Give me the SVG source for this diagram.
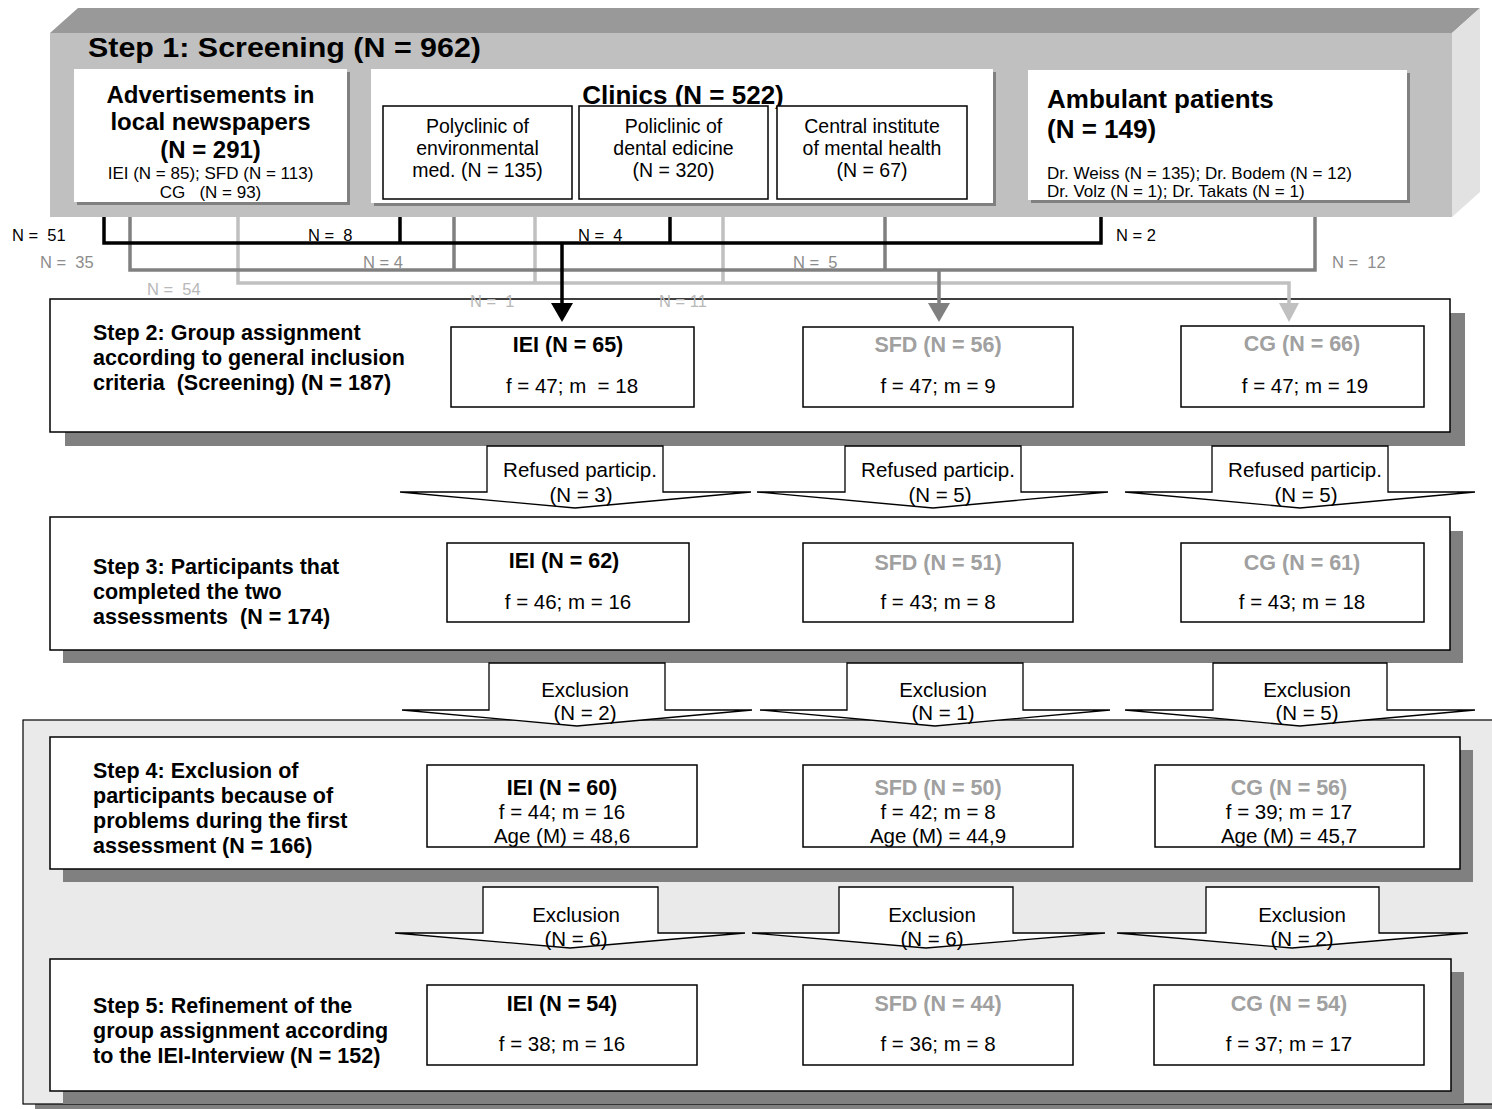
<svg xmlns="http://www.w3.org/2000/svg" width="1492" height="1109" viewBox="0 0 1492 1109">
<style>
text{font-family:"Liberation Sans",Arial,Helvetica,sans-serif;white-space:pre;fill:#000}
.b{font-weight:bold}
.m{text-anchor:middle}
.gr{fill:#a0a0a0}
.box{fill:#fff;stroke:#000;stroke-width:1.5}
.sh{fill:#808080}
.wb{fill:#fff}
.f17{font-size:17px}
.f19{font-size:19.5px}
.f20{font-size:20.5px}
.f21{font-size:21.5px}
.f24{font-size:24px}
.f26{font-size:26px}
.lab{font-size:16.5px}
.lk{fill:#000}
.ld{fill:#8c8c8c}
.ll{fill:#b8b8b8}
.blk{fill:#fff;stroke:#000;stroke-width:1.3}
</style>

<!-- Step 1: extruded screening block -->
<g id="step1">
  <polygon points="50,33 78,8 1480,8 1452,33" fill="#999999"/>
  <polygon points="1452,33 1480,8 1480,192 1452,217" fill="#e2e2e2"/>
  <rect x="50" y="33" width="1402" height="184" fill="#c0c0c0"/>
  <text x="88" y="57" class="b" font-size="28" textLength="393" lengthAdjust="spacingAndGlyphs">Step 1: Screening (N = 962)</text>
</g>

<g id="newspapers">
  <rect x="77" y="72" width="273" height="133" class="sh"/>
  <rect x="74" y="69" width="273" height="133" class="wb"/>
  <text x="210.5" y="103" class="b m f24">Advertisements in</text>
  <text x="210.5" y="130" class="b m f24">local newspapers</text>
  <text x="210.5" y="158" class="b m f24">(N = 291)</text>
  <text x="210.5" y="179" class="m f17">IEI (N = 85); SFD (N = 113)</text>
  <text x="210.5" y="198" class="m f17">CG   (N = 93)</text>
</g>

<g id="clinics">
  <rect x="374" y="72" width="622" height="134" class="sh"/>
  <rect x="371" y="69" width="622" height="134" class="wb"/>
  <text x="683" y="104" class="b m f26">Clinics (N = 522)</text>
</g>

<g id="clinic-environmental">
  <rect x="383" y="106" width="189" height="93" class="box"/>
  <text x="477.5" y="133" class="m f19">Polyclinic of</text>
  <text x="477.5" y="155" class="m f19">environmental</text>
  <text x="477.5" y="177" class="m f19">med. (N = 135)</text>
</g>

<g id="clinic-dental">
  <rect x="579" y="106" width="189" height="93" class="box"/>
  <text x="673.5" y="133" class="m f19">Policlinic of</text>
  <text x="673.5" y="155" class="m f19">dental edicine</text>
  <text x="673.5" y="177" class="m f19">(N = 320)</text>
</g>

<g id="clinic-mental-health">
  <rect x="777" y="106" width="190" height="93" class="box"/>
  <text x="872" y="133" class="m f19">Central institute</text>
  <text x="872" y="155" class="m f19">of mental health</text>
  <text x="872" y="177" class="m f19">(N = 67)</text>
</g>

<g id="ambulant">
  <rect x="1031" y="73" width="379" height="130" class="sh"/>
  <rect x="1028" y="70" width="379" height="130" class="wb"/>
  <text x="1047" y="108" class="b f26">Ambulant patients</text>
  <text x="1047" y="138" class="b f26">(N = 149)</text>
  <text x="1047" y="179" class="f17">Dr. Weiss (N = 135); Dr. Bodem (N = 12)</text>
  <text x="1047" y="197" class="f17">Dr. Volz (N = 1); Dr. Takats (N = 1)</text>
</g>

<!-- Steps 4 and 5 share a light panel -->
<g id="panel-steps-4-5">
  <rect x="35" y="732" width="1480" height="384" class="sh"/>
  <rect x="23" y="720" width="1480" height="384" fill="#eaeaea" stroke="#000" stroke-width="1.2"/>
</g>

<g id="step2">
  <rect x="65" y="313" width="1400" height="133" class="sh"/>
  <rect x="50" y="299" width="1400" height="133" class="box"/>
  <text x="93" y="340" class="b f21">Step 2: Group assignment</text>
  <text x="93" y="365" class="b f21">according to general inclusion</text>
  <text x="93" y="390" class="b f21">criteria  (Screening) (N = 187)</text>
</g>
<g id="step2-iei">
  <rect x="451" y="327" width="243" height="80" class="box"/>
  <text x="568" y="352" class="b m f21">IEI (N = 65)</text>
  <text x="572" y="393" class="m f20">f = 47; m  = 18</text>
</g>
<g id="step2-sfd">
  <rect x="803" y="327" width="270" height="80" class="box"/>
  <text x="938" y="352" class="b m f21 gr">SFD (N = 56)</text>
  <text x="938" y="393" class="m f20">f = 47; m = 9</text>
</g>
<g id="step2-cg">
  <rect x="1181" y="326" width="243" height="81" class="box"/>
  <text x="1302" y="351" class="b m f21 gr">CG (N = 66)</text>
  <text x="1305" y="393" class="m f20">f = 47; m = 19</text>
</g>

<g id="step3">
  <rect x="63" y="531" width="1400" height="132" class="sh"/>
  <rect x="50" y="517" width="1400" height="133" class="box"/>
  <text x="93" y="574" class="b f21">Step 3: Participants that</text>
  <text x="93" y="599" class="b f21">completed the two</text>
  <text x="93" y="624" class="b f21">assessments  (N = 174)</text>
</g>
<g id="step3-iei">
  <rect x="447" y="543" width="242" height="79" class="box"/>
  <text x="564" y="568" class="b m f21">IEI (N = 62)</text>
  <text x="568" y="609" class="m f20">f = 46; m = 16</text>
</g>
<g id="step3-sfd">
  <rect x="803" y="543" width="270" height="79" class="box"/>
  <text x="938" y="570" class="b m f21 gr">SFD (N = 51)</text>
  <text x="938" y="609" class="m f20">f = 43; m = 8</text>
</g>
<g id="step3-cg">
  <rect x="1181" y="543" width="243" height="79" class="box"/>
  <text x="1302" y="570" class="b m f21 gr">CG (N = 61)</text>
  <text x="1302" y="609" class="m f20">f = 43; m = 18</text>
</g>

<g id="step4">
  <rect x="63" y="750" width="1410" height="132" class="sh"/>
  <rect x="50" y="737" width="1410" height="132" class="box"/>
  <text x="93" y="778" class="b f21">Step 4: Exclusion of</text>
  <text x="93" y="803" class="b f21">participants because of</text>
  <text x="93" y="828" class="b f21">problems during the first</text>
  <text x="93" y="853" class="b f21">assessment (N = 166)</text>
</g>
<g id="step4-iei">
  <rect x="427" y="765" width="270" height="82" class="box"/>
  <text x="562" y="795" class="b m f21">IEI (N = 60)</text>
  <text x="562" y="819" class="m f20">f = 44; m = 16</text>
  <text x="562" y="843" class="m f20">Age (M) = 48,6</text>
</g>
<g id="step4-sfd">
  <rect x="803" y="765" width="270" height="82" class="box"/>
  <text x="938" y="795" class="b m f21 gr">SFD (N = 50)</text>
  <text x="938" y="819" class="m f20">f = 42; m = 8</text>
  <text x="938" y="843" class="m f20">Age (M) = 44,9</text>
</g>
<g id="step4-cg">
  <rect x="1155" y="765" width="269" height="82" class="box"/>
  <text x="1289" y="795" class="b m f21 gr">CG (N = 56)</text>
  <text x="1289" y="819" class="m f20">f = 39; m = 17</text>
  <text x="1289" y="843" class="m f20">Age (M) = 45,7</text>
</g>

<g id="step5">
  <rect x="63" y="972" width="1401" height="132" class="sh"/>
  <rect x="50" y="959" width="1401" height="132" class="box"/>
  <text x="93" y="1013" class="b f21">Step 5: Refinement of the</text>
  <text x="93" y="1038" class="b f21">group assignment according</text>
  <text x="93" y="1063" class="b f21">to the IEI-Interview (N = 152)</text>
</g>
<g id="step5-iei">
  <rect x="427" y="985" width="270" height="80" class="box"/>
  <text x="562" y="1011" class="b m f21">IEI (N = 54)</text>
  <text x="562" y="1051" class="m f20">f = 38; m = 16</text>
</g>
<g id="step5-sfd">
  <rect x="803" y="985" width="270" height="80" class="box"/>
  <text x="938" y="1011" class="b m f21 gr">SFD (N = 44)</text>
  <text x="938" y="1051" class="m f20">f = 36; m = 8</text>
</g>
<g id="step5-cg">
  <rect x="1154" y="985" width="270" height="80" class="box"/>
  <text x="1289" y="1011" class="b m f21 gr">CG (N = 54)</text>
  <text x="1289" y="1051" class="m f20">f = 37; m = 17</text>
</g>

<g id="connectors">
  <!-- recruitment lines: light gray (CG) under dark gray (SFD) under black (IEI) -->
  <g fill="none" stroke-width="3.5">
    <path stroke="#c0c0c0" d="M238,217V283H1289V304 M535,217V283 M723,217V283"/>
    <path stroke="#808080" d="M130,217V270H1315V217 M454,217V270 M885,217V270 M939,270V304"/>
    <path stroke="#000" d="M104,217V243H1101V217 M400,217V243 M670,217V243 M562,243V304"/>
  </g>
  <polygon points="1279,303 1299,303 1289,322" fill="#c0c0c0"/>
  <polygon points="928,303 950,303 939,322" fill="#808080"/>
  <polygon points="551,303 573,303 562,322" fill="#000"/>

  <text x="12" y="241" class="lab lk">N =  51</text>
  <text x="308" y="241" class="lab lk">N =  8</text>
  <text x="578" y="241" class="lab lk">N =  4</text>
  <text x="1116" y="241" class="lab lk">N = 2</text>
  <text x="40" y="268" class="lab ld">N =  35</text>
  <text x="363" y="268" class="lab ld">N = 4</text>
  <text x="793" y="268" class="lab ld">N =  5</text>
  <text x="1332" y="268" class="lab ld">N =  12</text>
  <text x="147" y="295" class="lab ll">N =  54</text>
  <text x="470" y="307" class="lab ll">N =  1</text>
  <text x="659" y="307" class="lab ll">N = 11</text>

  <!-- drop-outs between steps 2 and 3 -->
  <g id="refused-iei">
    <polygon class="blk" points="487,446 663,446 663,492 751,492 575,508 400,492 487,492"/>
    <text x="580" y="477" class="m f20">Refused particip.</text>
    <text x="581" y="502" class="m f20">(N = 3)</text>
  </g>
  <g id="refused-sfd">
    <polygon class="blk" points="845,446 1021,446 1021,492 1108,492 933,508 757,492 845,492"/>
    <text x="938" y="477" class="m f20">Refused particip.</text>
    <text x="940" y="502" class="m f20">(N = 5)</text>
  </g>
  <g id="refused-cg">
    <polygon class="blk" points="1212,446 1388,446 1388,492 1475,492 1300,508 1125,492 1212,492"/>
    <text x="1305" y="477" class="m f20">Refused particip.</text>
    <text x="1306" y="502" class="m f20">(N = 5)</text>
  </g>

  <!-- exclusions between steps 3 and 4 -->
  <g id="exclusion3-iei">
    <polygon class="blk" points="489,663 665,663 665,710 752,710 577,726 402,710 489,710"/>
    <text x="585" y="697" class="m f20">Exclusion</text>
    <text x="585" y="720" class="m f20">(N = 2)</text>
  </g>
  <g id="exclusion3-sfd">
    <polygon class="blk" points="847,663 1023,663 1023,710 1110,710 935,726 760,710 847,710"/>
    <text x="943" y="697" class="m f20">Exclusion</text>
    <text x="943" y="720" class="m f20">(N = 1)</text>
  </g>
  <g id="exclusion3-cg">
    <polygon class="blk" points="1213,663 1387,663 1387,710 1475,710 1300,726 1125,710 1213,710"/>
    <text x="1307" y="697" class="m f20">Exclusion</text>
    <text x="1307" y="720" class="m f20">(N = 5)</text>
  </g>

  <!-- exclusions between steps 4 and 5 -->
  <g id="exclusion4-iei">
    <polygon class="blk" points="483,887 658,887 658,933 745,933 570,948 395,933 483,933"/>
    <text x="576" y="922" class="m f20">Exclusion</text>
    <text x="576" y="946" class="m f20">(N = 6)</text>
  </g>
  <g id="exclusion4-sfd">
    <polygon class="blk" points="839,887 1013,887 1013,933 1105,933 926,948 752,933 839,933"/>
    <text x="932" y="922" class="m f20">Exclusion</text>
    <text x="932" y="946" class="m f20">(N = 6)</text>
  </g>
  <g id="exclusion4-cg">
    <polygon class="blk" points="1206,887 1379,887 1379,933 1468,933 1292,948 1117,933 1206,933"/>
    <text x="1302" y="922" class="m f20">Exclusion</text>
    <text x="1302" y="946" class="m f20">(N = 2)</text>
  </g>
</g>
</svg>
